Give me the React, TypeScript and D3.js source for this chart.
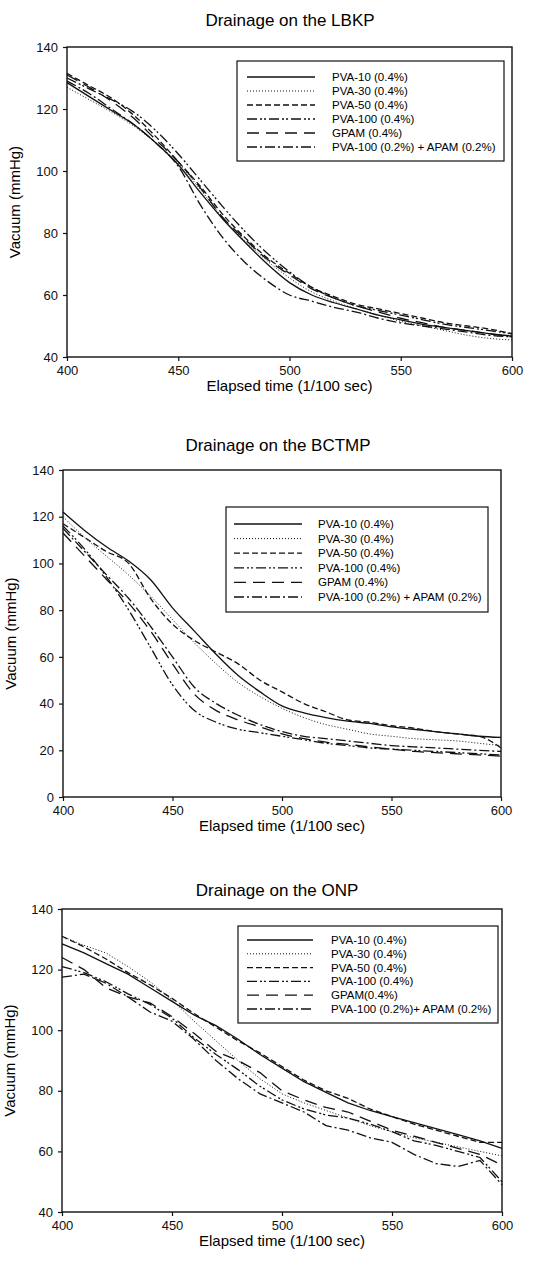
import React, { useEffect, useRef } from 'react';
import * as d3 from 'd3';

// elapsed time, 1/100 sec
const times = [400, 410, 420, 430, 440, 450, 460, 470, 480, 490, 500, 510, 520, 530, 540, 550, 560, 570, 580, 590, 600];
const xTicks = [400, 450, 500, 550, 600];

const seriesNames = ['PVA-10 (0.4%)', 'PVA-30 (0.4%)', 'PVA-50 (0.4%)', 'PVA-100 (0.4%)', 'GPAM (0.4%)', 'PVA-100 (0.2%) + APAM (0.2%)'];
const onpNames = ['PVA-10 (0.4%)', 'PVA-30 (0.4%)', 'PVA-50 (0.4%)', 'PVA-100 (0.4%)', 'GPAM(0.4%)', 'PVA-100 (0.2%)+ APAM (0.2%)'];

// LBKP
const lbkpPva10 = [128.5, 124, 119.5, 115, 109, 102, 93, 84.5, 77, 70, 64, 60, 57.5, 55.5, 53.5, 52, 50.5, 49.5, 48.5, 47.5, 46.8];
const lbkpPva30 = [127, 123, 119, 114.5, 109, 102.5, 94, 85, 77.5, 71, 65.5, 61, 58, 55.5, 53.5, 51.5, 50, 48.5, 47, 46, 45.5];
const lbkpPva50 = [131.5, 127.5, 123.5, 118, 111, 103, 95, 86, 78.5, 72, 67, 62.5, 59.5, 57, 55.5, 54, 52.5, 51, 50, 49, 47.5];
const lbkpPva100 = [130, 126.5, 123, 119, 113, 105.5, 97, 88.5, 80.5, 73.5, 67.5, 62.5, 59, 56.5, 55, 53.5, 52, 50.5, 49.5, 48.5, 47.5];
const lbkpGpam = [131, 127, 122.5, 117, 110, 103, 94.5, 85, 78, 71.5, 66.5, 62, 59, 56.5, 54.5, 52.5, 51, 49.5, 48.5, 47.5, 46.5];
const lbkpApam = [129, 125, 120, 115, 109, 101.5, 89, 78.5, 70.5, 64.5, 60, 58, 56, 54.5, 52.5, 51, 50, 49, 48, 47, 46.5];

// BCTMP
const bctmpPva10 = [122, 114, 107, 101, 93, 81, 71, 61, 52, 45, 39, 36, 34, 32.5, 31.5, 30, 29, 28, 27, 26, 25.5];
const bctmpPva30 = [120, 111, 103, 95, 86, 76, 66, 57, 49, 43, 38, 34, 31, 29, 27, 26, 25, 24.5, 24, 23, 22];
const bctmpPva50 = [117, 111, 105, 100, 85, 74, 67, 62, 57, 50, 45, 40, 36.5, 33, 32, 30.5, 29.5, 28, 27, 26, 21];
const bctmpPva100 = [116, 106, 94, 80, 64, 48, 37, 32, 29, 27.5, 26, 24.5, 23, 22, 21, 20.5, 20, 19.5, 19, 18.5, 18];
const bctmpGpam = [113, 103, 93, 83, 71, 57, 44, 37, 33, 30, 27, 25, 23.5, 22.5, 21.5, 20.5, 19.5, 19, 18.5, 18, 17.5];
const bctmpApam = [115, 105, 95, 85, 73, 60, 47, 40, 35, 31, 28, 26, 25, 24, 23, 22, 21.5, 21, 20.5, 20, 19.5];

// ONP
const onpPva10 = [128.5, 125.5, 122, 118.5, 114, 109.5, 105, 101.5, 97, 92, 87.5, 83, 79.5, 76, 73.5, 71.5, 69.5, 67.5, 65.5, 63.5, 61];
const onpPva30 = [131, 128, 125.5, 121, 116, 110, 103, 96.5, 90, 84, 79, 76, 73.5, 71, 68.5, 66.5, 64.5, 63, 61.5, 60, 58.5];
const onpPva50 = [131, 127.5, 123.5, 119, 115, 110.5, 105.5, 101, 96.5, 92.5, 88, 83.5, 80, 77.5, 74, 71.5, 69, 67, 65, 63, 63];
const onpPva100 = [121, 119, 116, 112, 108.5, 104, 97.5, 92, 87, 81.5, 77, 74, 72, 71, 69, 66.5, 63.5, 62, 60, 58, 50];
const onpGpam = [124, 120, 114, 111, 109, 104.5, 99, 93, 90, 86, 80, 77, 74.5, 73, 70, 67, 65, 63, 61, 59, 55.5];
const onpApam = [117.5, 118.5, 115.5, 111, 106, 103, 97, 90, 84, 79, 76, 73, 68.5, 67, 64.5, 63, 59, 56, 55, 57, 49];

const lbkpTicks = [40, 60, 80, 100, 120, 140];
const bctmpTicks = [0, 20, 40, 60, 80, 100, 120, 140];
const onpTicks = [40, 60, 80, 100, 120, 140];

const dashes = [null, '1,2', '6,3', '10,3,2,2,2,3', '12,7', '10,3,2,3'];

const panels = [
  {
    title: 'Drainage on the LBKP', names: seriesNames, yTicks: lbkpTicks,
    series: [lbkpPva10, lbkpPva30, lbkpPva50, lbkpPva100, lbkpGpam, lbkpApam],
    box: { l: 67, r: 512, t: 47, b: 357 }, titleY: 26, titleX: 290,
    legend: { x0: 237, y0: 61, x1: 504, y1: 161, lx0: 247, lx1: 315, tx: 332, ry: 77, dy: 14 },
    curve: d3.curveMonotoneX,
  },
  {
    title: 'Drainage on the BCTMP', names: seriesNames, yTicks: bctmpTicks,
    series: [bctmpPva10, bctmpPva30, bctmpPva50, bctmpPva100, bctmpGpam, bctmpApam],
    box: { l: 63, r: 501, t: 470, b: 797 }, titleY: 451, titleX: 278,
    legend: { x0: 226, y0: 507, x1: 488, y1: 612, lx0: 234, lx1: 302, tx: 318, ry: 524, dy: 14.6 },
    curve: d3.curveMonotoneX,
  },
  {
    title: 'Drainage on the ONP', names: onpNames, yTicks: onpTicks,
    series: [onpPva10, onpPva30, onpPva50, onpPva100, onpGpam, onpApam],
    box: { l: 62, r: 502, t: 909, b: 1212 }, titleY: 896, titleX: 277,
    legend: { x0: 238, y0: 926, x1: 498, y1: 1023, lx0: 247, lx1: 313, tx: 331, ry: 940, dy: 13.8 },
    curve: d3.curveLinear,
  },
];

const FONT = '"Liberation Sans", Arial, sans-serif';

export default function App() {
  const ref = useRef<SVGSVGElement>(null);

  useEffect(() => {
    const svg = d3.select(ref.current);
    svg.selectAll('*').remove();

    panels.forEach((p) => {
      const { l, r, t, b } = p.box;
      const x = d3.scaleLinear().domain([400, 600]).range([l, r]);
      const yDom = d3.extent(p.yTicks) as [number, number];
      const y = d3.scaleLinear().domain(yDom).range([b, t]);
      const g = svg.append('g');

      g.append('text')
        .attr('x', p.titleX).attr('y', p.titleY)
        .attr('text-anchor', 'middle')
        .style('font-size', '17px')
        .text(p.title);

      g.append('g')
        .attr('transform', `translate(0,${b})`)
        .call(d3.axisBottom(x).tickValues(xTicks).tickSize(4).tickSizeOuter(0))
        .call((a) => a.select('.domain').remove())
        .call((a) => a.selectAll('line').attr('stroke', '#111').attr('stroke-width', 1.2))
        .call((a) => a.selectAll('text').style('font-size', '13px').style('font-family', FONT).attr('fill', '#111').attr('dy', '0.85em'));

      g.append('g')
        .attr('transform', `translate(${l},0)`)
        .call(d3.axisLeft(y).tickValues(p.yTicks).tickSize(4).tickSizeOuter(0))
        .call((a) => a.select('.domain').remove())
        .call((a) => a.selectAll('line').attr('stroke', '#111').attr('stroke-width', 1.2))
        .call((a) => a.selectAll('text').style('font-size', '13px').style('font-family', FONT).attr('fill', '#111').attr('dx', '-0.15em'));

      g.append('rect')
        .attr('x', l).attr('y', t).attr('width', r - l).attr('height', b - t)
        .attr('fill', 'none').attr('stroke', '#111').attr('stroke-width', 1.4);

      g.append('text')
        .attr('x', (l + r) / 2).attr('y', b + 34)
        .attr('text-anchor', 'middle')
        .style('font-size', '15px')
        .text('Elapsed time (1/100 sec)');

      g.append('text')
        .attr('transform', `translate(${l - 47},${(t + b) / 2}) rotate(-90)`)
        .attr('text-anchor', 'middle')
        .style('font-size', '15px')
        .text('Vacuum (mmHg)');

      const line = d3.line<number>()
        .x((_, i) => x(times[i]))
        .y((v) => y(v))
        .curve(p.curve);

      p.series.forEach((vals, i) => {
        g.append('path')
          .attr('d', line(vals))
          .attr('fill', 'none')
          .attr('stroke', '#111')
          .attr('stroke-width', i === 1 ? 1 : 1.3)
          .attr('stroke-dasharray', dashes[i]);
      });

      const lg = p.legend;
      g.append('rect')
        .attr('x', lg.x0).attr('y', lg.y0)
        .attr('width', lg.x1 - lg.x0).attr('height', lg.y1 - lg.y0)
        .attr('fill', 'white').attr('stroke', '#111').attr('stroke-width', 1.2);

      p.names.forEach((name, i) => {
        const yy = lg.ry + i * lg.dy;
        g.append('line')
          .attr('x1', lg.lx0).attr('x2', lg.lx1).attr('y1', yy).attr('y2', yy)
          .attr('stroke', '#111').attr('stroke-width', i === 1 ? 1 : 1.3)
          .attr('stroke-dasharray', dashes[i]);
        g.append('text')
          .attr('x', lg.tx).attr('y', yy)
          .attr('dy', '0.35em')
          .style('font-size', '11.5px')
          .text(name);
      });
    });
  }, []);

  return (
    <svg
      ref={ref}
      width={533}
      height={1262}
      style={{ position: 'absolute', left: 0, top: 0, background: 'white', fontFamily: FONT, color: '#111' }}
    />
  );
}
